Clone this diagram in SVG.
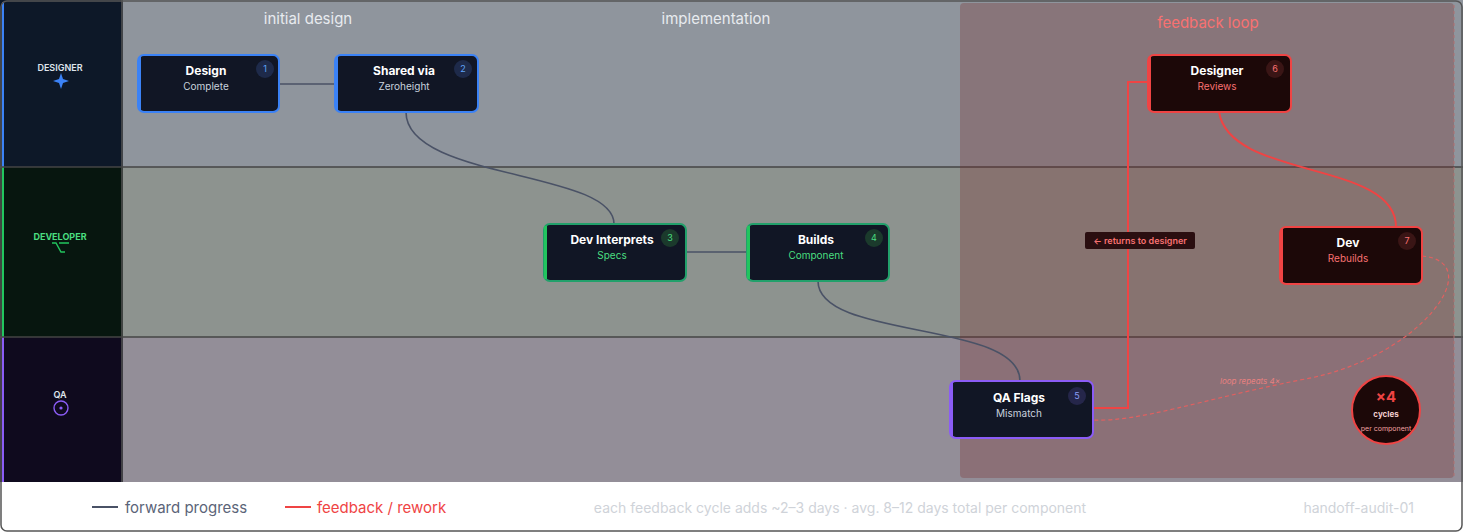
<svg xmlns="http://www.w3.org/2000/svg" width="1463" height="532" viewBox="0 0 1463 532">
<defs>
<style>
.t{font-family:Inter,"Liberation Sans",sans-serif}
.nb{fill:#111625;stroke-width:2}
.title{font-size:12px;font-weight:700;fill:#fff;text-anchor:middle}
.sub{font-size:10px;text-anchor:middle}
.num{font-size:9px;text-anchor:middle}
.fwd{fill:none;stroke:#4a5266;stroke-width:1.6}
.red{fill:none;stroke:#ef4444;stroke-width:2}
</style>
</defs>
<rect x="0" y="0" width="1463" height="532" fill="#fff"/>
<rect x="0" y="0" width="123" height="167" fill="#0d1828"/>
<rect x="0" y="167" width="123" height="170" fill="#07160f"/>
<rect x="0" y="337" width="123" height="145" fill="#0f0a1e"/>
<rect x="2" y="2" width="2" height="165" fill="#3b82f6"/>
<rect x="2" y="167" width="2" height="170" fill="#22c55e"/>
<rect x="2" y="337" width="2" height="145" fill="#8b5cf6"/>
<rect x="123" y="0" width="1340" height="167" fill="#8f959d"/>
<rect x="123" y="167" width="1340" height="170" fill="#8d938f"/>
<rect x="123" y="337" width="1340" height="145" fill="#938e98"/>
<line x1="122" y1="0" x2="122" y2="482" stroke="#555" stroke-width="1.5"/>
<line x1="0" y1="167" x2="1463" y2="167" stroke="#444" stroke-width="1.5"/>
<line x1="0" y1="337" x2="1463" y2="337" stroke="#444" stroke-width="1.5"/>
<rect x="960" y="3" width="494" height="475" rx="4" fill="#7a2a2a" fill-opacity="0.3"/>
<line x1="1454" y1="5" x2="1454" y2="476" stroke="#b07070" stroke-dasharray="3 3"/>
<g class="t">
<text x="60" y="71" font-size="9" font-weight="600" fill="#dfe4ec" text-anchor="middle">DESIGNER</text>
<path d="M61 73 L63 79 L69 81 L63 83 L61 89 L59 83 L53 81 L59 79Z" fill="#3b82f6"/>
<text x="60" y="240" font-size="9" font-weight="700" fill="#4ade80" text-anchor="middle">DEVELOPER</text>
<path d="M52 243 H56 L61 252 H65 M59 243 H69" stroke="#22c55e" stroke-width="1.4" fill="none"/>
<text x="60" y="398" font-size="9" font-weight="600" fill="#dfe4ec" text-anchor="middle">QA</text>
<circle cx="61" cy="408" r="7" fill="none" stroke="#8b5cf6" stroke-width="1.4"/><circle cx="61" cy="408" r="1.6" fill="#8b5cf6"/>
<text x="308" y="24" font-size="15" fill="#e8ebef" text-anchor="middle">initial design</text>
<text x="716" y="24" font-size="15" fill="#e8ebef" text-anchor="middle">implementation</text>
<text x="1208" y="28" font-size="15" fill="#f87171" text-anchor="middle">feedback loop</text>
</g>
<g id="connectors">
<path class="fwd" d="M279 84 H335"/>
<path class="fwd" d="M406 112 C406 180 614 170 614 224"/>
<path class="fwd" d="M686 252 H747"/>
<path class="fwd" d="M818 281 C818 340 1020 320 1020 381"/>
<path class="red" d="M1093 408 H1128 V82 H1148"/>
<path class="red" d="M1219 112 C1230 180 1396 160 1396 227"/>
<path d="M1422 256 C1490 262 1420 360 1300 380 C1200 400 1140 422 1093 420" fill="none" stroke="#e06060" stroke-width="1.2" stroke-dasharray="4 3"/>
<rect x="1085" y="232" width="110" height="17" rx="2" fill="#2a0e10"/>
<text class="t" x="1140" y="244" font-size="9" font-weight="600" fill="#f87171" text-anchor="middle">← returns to designer</text>
<text class="t" x="1250" y="384" font-size="8" fill="#e88080" text-anchor="middle" font-style="italic">loop repeats 4×</text>
</g>
<g id="n1" class="t"><rect class="nb" x="138" y="55" width="141" height="57" rx="6" stroke="#3b82f6"/><rect x="138" y="57" width="3" height="53" fill="#3b82f6"/><text class="title" x="206" y="75">Design</text><text class="sub" x="206" y="90" fill="#c9d2de">Complete</text><circle cx="265" cy="69" r="9" fill="#1e2a4a"/><text class="num" x="265" y="72" fill="#60a5fa">1</text></g>
<g id="n2" class="t"><rect class="nb" x="335" y="55" width="143" height="57" rx="6" stroke="#3b82f6"/><rect x="335" y="57" width="3" height="53" fill="#3b82f6"/><text class="title" x="404" y="75">Shared via</text><text class="sub" x="404" y="90" fill="#c9d2de">Zeroheight</text><circle cx="463" cy="69" r="9" fill="#1e2a4a"/><text class="num" x="463" y="72" fill="#60a5fa">2</text></g>
<g id="n3" class="t"><rect class="nb" x="544" y="224" width="142" height="57" rx="6" stroke="#22a06b"/><rect x="544" y="226" width="3" height="53" fill="#22c55e"/><text class="title" x="612" y="244">Dev Interprets</text><text class="sub" x="612" y="259" fill="#4ade80">Specs</text><circle cx="670" cy="238" r="9" fill="#1b3a2c"/><text class="num" x="670" y="241" fill="#4ade80">3</text></g>
<g id="n4" class="t"><rect class="nb" x="747" y="224" width="142" height="57" rx="6" stroke="#22a06b"/><rect x="747" y="226" width="3" height="53" fill="#22c55e"/><text class="title" x="816" y="244">Builds</text><text class="sub" x="816" y="259" fill="#4ade80">Component</text><circle cx="874" cy="238" r="9" fill="#1b3a2c"/><text class="num" x="874" y="241" fill="#4ade80">4</text></g>
<g id="n5" class="t"><rect class="nb" x="950" y="381" width="143" height="57" rx="6" stroke="#8b5cf6"/><rect x="950" y="383" width="3" height="53" fill="#8b5cf6"/><text class="title" x="1019" y="402">QA Flags</text><text class="sub" x="1019" y="417" fill="#c9d2de">Mismatch</text><circle cx="1077" cy="396" r="9" fill="#25264a"/><text class="num" x="1077" y="399" fill="#8b9cf6">5</text></g>
<g id="n6" class="t"><rect class="nb" x="1148" y="55" width="143" height="57" rx="6" stroke="#ef4444" style="fill:#1c0808"/><rect x="1148" y="57" width="3" height="53" fill="#ef4444"/><text class="title" x="1217" y="75">Designer</text><text class="sub" x="1217" y="90" fill="#f87171">Reviews</text><circle cx="1275" cy="69" r="9" fill="#3a1515"/><text class="num" x="1275" y="72" fill="#f87171">6</text></g>
<g id="n7" class="t"><rect class="nb" x="1280" y="227" width="142" height="57" rx="6" stroke="#ef4444" style="fill:#1c0808"/><rect x="1280" y="229" width="3" height="53" fill="#ef4444"/><text class="title" x="1348" y="247">Dev</text><text class="sub" x="1348" y="262" fill="#f87171">Rebuilds</text><circle cx="1407" cy="241" r="9" fill="#3a1515"/><text class="num" x="1407" y="244" fill="#f87171">7</text></g>
<g id="badge" class="t"><circle cx="1386" cy="410" r="34" fill="#1c0808" stroke="#ef4444" stroke-width="2"/><text x="1386" y="402" font-size="15" font-weight="700" fill="#ef4444" text-anchor="middle">×4</text><text x="1386" y="417" font-size="8" font-weight="700" fill="#f3d0d0" text-anchor="middle">cycles</text><text x="1386" y="431" font-size="7" fill="#f0a0a0" text-anchor="middle">per component</text></g>
<g class="t">
<line x1="92" y1="507" x2="118" y2="507" stroke="#4a5266" stroke-width="2"/>
<text x="125" y="513" font-size="15" fill="#5b6478">forward progress</text>
<line x1="285" y1="507" x2="311" y2="507" stroke="#ef4444" stroke-width="2"/>
<text x="317" y="513" font-size="15" fill="#ef4444">feedback / rework</text>
<text x="840" y="513" font-size="14" fill="#cfd3d9" text-anchor="middle">each feedback cycle adds ~2–3 days · avg. 8–12 days total per component</text>
<text x="1414" y="513" font-size="14" fill="#cfd3d9" text-anchor="end">handoff-audit-01</text>
</g>
<rect x="1" y="1" width="1461" height="530" rx="6" fill="none" stroke="#555" stroke-width="1.5"/>
</svg>
